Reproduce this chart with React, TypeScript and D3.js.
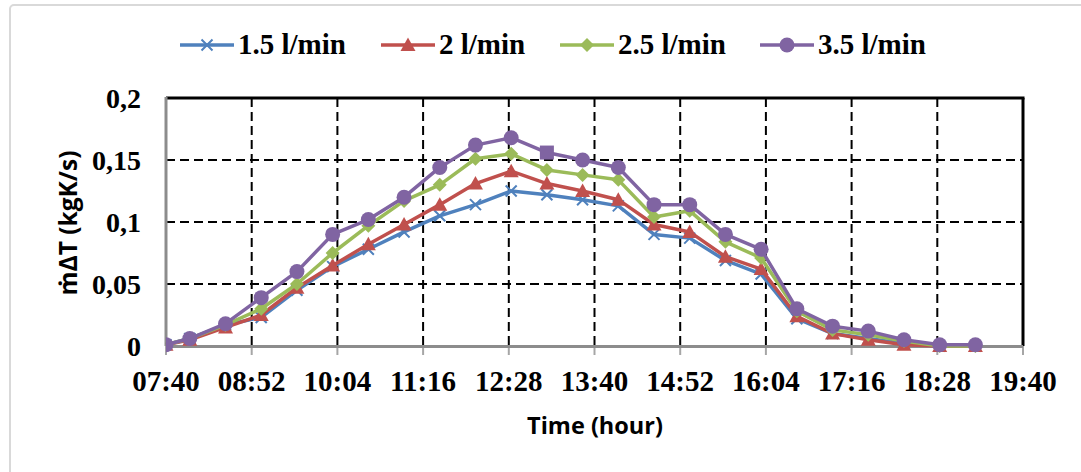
import React from "react";
import * as d3 from "d3";

const times = ["07:40","08:00","08:30","09:00","09:30","10:00","10:30","11:00","11:30","12:00","12:30","13:00","13:30","14:00","14:30","15:00","15:30","16:00","16:30","17:00","17:30","18:00","18:30","19:00"];
const flow15 = [0.001,0.006,0.017,0.023,0.045,0.064,0.078,0.092,0.105,0.114,0.125,0.122,0.118,0.113,0.090,0.087,0.069,0.058,0.022,0.010,0.006,0.002,0.000,0.000];
const flow20 = [0.001,0.005,0.015,0.025,0.047,0.065,0.082,0.098,0.114,0.131,0.141,0.131,0.125,0.118,0.098,0.092,0.072,0.062,0.024,0.010,0.005,0.001,0.000,0.000];
const flow25 = [0.001,0.006,0.017,0.030,0.050,0.075,0.097,0.117,0.130,0.151,0.155,0.142,0.138,0.134,0.104,0.109,0.084,0.071,0.028,0.013,0.009,0.004,0.000,0.000];
const flow35 = [0.001,0.006,0.018,0.039,0.060,0.090,0.102,0.120,0.144,0.162,0.168,0.156,0.150,0.144,0.114,0.114,0.090,0.078,0.030,0.016,0.012,0.005,0.001,0.001];
const seriesNames = ["1.5 l/min","2 l/min","2.5 l/min","3.5 l/min"];
const seriesColors = ["#4F81BD","#C0504D","#9BBB59","#8064A2"];
const seriesMarkers = ["x","triangle","diamond","circle"];
const xTickLabels = ["07:40","08:52","10:04","11:16","12:28","13:40","14:52","16:04","17:16","18:28","19:40"];
const yTicks = [0,0.05,0.1,0.15,0.2];
const yTickLabels = ["0","0,05","0,1","0,15","0,2"];
const squareOverride = { series: 3, index: 11 };

const toMin = (t: string) => { const [h, m] = t.split(":").map(Number); return h * 60 + m; };

const L = 166, R = 1023, T = 98, B = 346;

function Marker({ type, x, y, color }: { type: string; x: number; y: number; color: string }) {
  if (type === "x") {
    const s = 5.5;
    return <path d={`M${x - s},${y - s}L${x + s},${y + s}M${x - s},${y + s}L${x + s},${y - s}`} stroke={color} strokeWidth={2} fill="none" />;
  }
  if (type === "triangle") {
    const s = 7.5;
    return <path d={`M${x},${y - s}L${x + s},${y + s * 0.8}L${x - s},${y + s * 0.8}Z`} fill={color} />;
  }
  if (type === "diamond") {
    const s = 7;
    return <path d={`M${x},${y - s}L${x + s},${y}L${x},${y + s}L${x - s},${y}Z`} fill={color} />;
  }
  if (type === "square") {
    const s = 7;
    return <rect x={x - s} y={y - s} width={2 * s} height={2 * s} fill={color} />;
  }
  return <circle cx={x} cy={y} r={7.5} fill={color} />;
}

export default function App() {
  const x = d3.scaleLinear().domain([toMin("07:40"), toMin("19:40")]).range([L, R]);
  const y = d3.scaleLinear().domain([0, 0.2]).range([B, T]);
  const data = [flow15, flow20, flow25, flow35];
  const xTicks = xTickLabels.map(toMin);
  const line = d3.line<number>().x((_, i) => x(toMin(times[i]))).y((v) => y(v));
  const tickFont = "'Liberation Serif', 'Times New Roman', serif";
  const titleFont = "'Open Sans', 'DejaVu Sans', sans-serif";
  const legendX = [180, 381, 560, 760];

  return (
    <svg width={1081} height={472} style={{ position: "absolute", left: 0, top: 0, background: "#fff" }}>
      <defs>
        <clipPath id="clipL"><rect x={L} y={0} width={1081 - L} height={472} /></clipPath>
      </defs>
      <rect x={10} y={5} width={1085} height={480} fill="none" stroke="#d9d9d9" strokeWidth={2} rx={4} />
      {yTicks.slice(1, -1).map((t) => (
        <line key={"gy" + t} x1={L} x2={R} y1={y(t)} y2={y(t)} stroke="#000" strokeWidth={2} strokeDasharray="9,5" />
      ))}
      {xTicks.slice(1, -1).map((t) => (
        <line key={"gx" + t} x1={x(t)} x2={x(t)} y1={T} y2={B} stroke="#000" strokeWidth={2} strokeDasharray="9,5" />
      ))}
      {xTicks.map((t) => (
        <line key={"tx" + t} x1={x(t)} x2={x(t)} y1={B} y2={B + 9} stroke="#a6a6a6" strokeWidth={2} />
      ))}
      <line x1={L} x2={R + 1.5} y1={T} y2={T} stroke="#000" strokeWidth={3} />
      <line x1={R} x2={R} y1={T} y2={B} stroke="#000" strokeWidth={3} />
      <line x1={L} x2={L} y1={T - 1} y2={B} stroke="#8c8c8c" strokeWidth={3} />
      <line x1={L} x2={R} y1={B + 0.5} y2={B + 0.5} stroke="#8c8c8c" strokeWidth={3} />
      {data.map((vals, si) => (
        <g key={"s" + si}>
          <path d={line(vals) || ""} fill="none" stroke={seriesColors[si]} strokeWidth={3.5} strokeLinejoin="round" />
          <g clipPath="url(#clipL)">
            {vals.map((v, i) => (
              <Marker key={i}
                type={si === squareOverride.series && i === squareOverride.index ? "square" : seriesMarkers[si]}
                x={x(toMin(times[i]))} y={y(v)} color={seriesColors[si]} />
            ))}
          </g>
        </g>
      ))}
      {yTicks.map((t, i) => (
        <text key={"yl" + t} x={141} y={y(t)} dy="0.35em" textAnchor="end" fontFamily={tickFont} fontWeight="bold" fontSize={28}>{yTickLabels[i]}</text>
      ))}
      {xTicks.map((t, i) => (
        <text key={"xl" + t} x={x(t)} y={391} textAnchor="middle" fontFamily={tickFont} fontWeight="bold" fontSize={29}>{xTickLabels[i]}</text>
      ))}
      <text x={595} y={434} textAnchor="middle" fontFamily={titleFont} fontWeight="bold" fontSize={23.5}>Time (hour)</text>
      <text transform="translate(77,223) rotate(-90)" textAnchor="middle" fontFamily={titleFont} fontWeight="bold" fontSize={24.5}>ṁΔT (kgK/s)</text>
      {seriesNames.map((n, i) => (
        <g key={"lg" + i}>
          <line x1={legendX[i]} x2={legendX[i] + 54} y1={45} y2={45} stroke={seriesColors[i]} strokeWidth={3.5} />
          <Marker type={seriesMarkers[i]} x={legendX[i] + 27} y={45} color={seriesColors[i]} />
          <text x={legendX[i] + 58} y={54} fontFamily={tickFont} fontWeight="bold" fontSize={29}>{n}</text>
        </g>
      ))}
    </svg>
  );
}
